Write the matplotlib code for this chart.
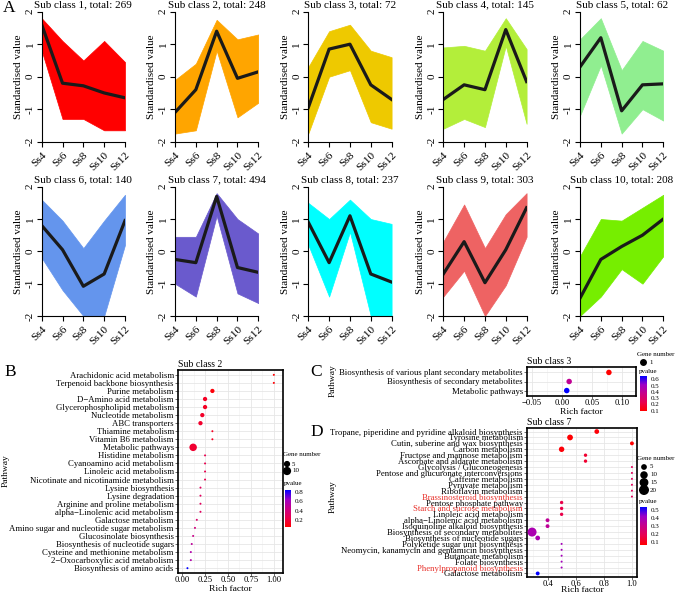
import numpy as np
import matplotlib.pyplot as plt
from matplotlib.colors import LinearSegmentedColormap, Normalize
from matplotlib.ticker import FixedLocator

plt.rcParams["font.family"] = ["Liberation Serif", "DejaVu Serif"]

# ---- Panel A: expression profiles of the 10 sub classes ----
stages = ["Ss4", "Ss6", "Ss8", "Ss10", "Ss12"]
totals = [269, 248, 72, 145, 62, 140, 494, 237, 303, 208]
class_colours = ["#FF0000", "#FFA500", "#EEC900", "#B3EE3A", "#90EE90",
                 "#6495ED", "#6A5ACD", "#00FFFF", "#EE6363", "#76EE00"]
mean_profiles = [
    [1.6, -0.2, -0.28, -0.5, -0.65],
    [-1.1, -0.4, 1.4, -0.05, 0.15],
    [-0.95, 0.85, 1.0, -0.25, -0.7],
    [-0.7, -0.25, -0.4, 1.45, -0.15],
    [0.3, 1.2, -1.05, -0.25, -0.22],
    [0.8, 0.05, -1.08, -0.7, 0.95],
    [-0.25, -0.35, 1.7, -0.5, -0.65],
    [0.9, -0.35, 1.1, -0.7, -0.95],
    [-0.7, 0.3, -0.97, 0.05, 1.35],
    [-1.45, -0.25, 0.15, 0.5, 1.0],
]
# upper / lower envelope of the individual gene profiles
band_hi = [
    [1.8, 1.1, 0.5, 1.1, 0.45],
    [-0.1, 0.4, 1.75, 1.15, 1.3],
    [0.3, 1.4, 1.6, 0.8, 0.6],
    [0.9, 0.95, 0.8, 1.8, 0.85],
    [1.15, 1.8, 0.2, 1.1, 0.8],
    [1.6, 0.95, 0.1, 0.95, 1.75],
    [0.45, 0.45, 1.8, 1.0, 0.55],
    [1.5, 1.0, 1.6, 1.0, 0.85],
    [0.3, 1.45, 0.1, 1.15, 1.8],
    [-0.15, 1.0, 0.95, 1.35, 1.75],
]
band_lo = [
    [0.8, -1.3, -1.3, -1.65, -1.65],
    [-1.75, -1.65, 0.8, -1.25, -0.8],
    [-1.75, 0.0, 0.2, -1.4, -1.6],
    [-1.6, -1.3, -1.55, 0.95, -1.45],
    [-1.2, 0.35, -1.75, -1.0, -1.35],
    [-0.2, -1.2, -2.0, -2.0, 0.2],
    [-1.0, -1.4, 1.1, -1.3, -1.6],
    [0.2, -1.4, 0.6, -2.0, -2.0],
    [-1.4, -0.6, -2.0, -1.05, 0.45],
    [-2.0, -1.4, -0.55, -1.0, -0.15],
]

# ---- Panel B: KEGG enrichment, sub class 2 ----
names_b = ["Arachidonic acid metabolism", "Terpenoid backbone biosynthesis",
           "Purine metabolism", "D\u2212Amino acid metabolism",
           "Glycerophospholipid metabolism", "Nucleotide metabolism",
           "ABC transporters", "Thiamine metabolism", "Vitamin B6 metabolism",
           "Metabolic pathways", "Histidine metabolism",
           "Cyanoamino acid metabolism", "Linoleic acid metabolism",
           "Nicotinate and nicotinamide metabolism", "Lysine biosynthesis",
           "Lysine degradation", "Arginine and proline metabolism",
           "alpha\u2212Linolenic acid metabolism", "Galactose metabolism",
           "Amino sugar and nucleotide sugar metabolism",
           "Glucosinolate biosynthesis", "Biosynthesis of nucleotide sugars",
           "Cysteine and methionine metabolism",
           "2\u2212Oxocarboxylic acid metabolism", "Biosynthesis of amino acids"]
rich_b = [1.0, 1.0, 0.33, 0.25, 0.25, 0.22, 0.2, 0.33, 0.33, 0.12, 0.25, 0.25,
          0.25, 0.25, 0.2, 0.2, 0.2, 0.2, 0.16, 0.14, 0.12, 0.105, 0.095, 0.095,
          0.058]
genes_b = [1, 1, 4, 4, 4, 4, 4, 1, 1, 12, 1, 1, 1, 1, 1, 1, 1, 1, 1, 1, 1, 1,
           1, 1, 1]
pval_b = [0.06, 0.07, 0.08, 0.15, 0.15, 0.16, 0.17, 0.15, 0.15, 0.18, 0.25,
          0.25, 0.25, 0.25, 0.3, 0.3, 0.3, 0.3, 0.35, 0.4, 0.45, 0.5, 0.55,
          0.55, 0.835]

# ---- Panel C: sub class 3 ----
names_c = ["Biosynthesis of various plant secondary metabolites",
           "Biosynthesis of secondary metabolites", "Metabolic pathways"]
rich_c = [0.078, 0.012, 0.008]
genes_c = [1, 1, 1]
pval_c = [0.095, 0.4, 0.653]

# ---- Panel D: sub class 7 ----
names_d = ["Tropane, piperidine and pyridine alkaloid biosynthesis",
           "Tyrosine metabolism", "Cutin, suberine and wax biosynthesis",
           "Carbon metabolism", "Fructose and mannose metabolism",
           "Ascorbate and aldarate metabolism", "Glycolysis / Gluconeogenesis",
           "Pentose and glucuronate interconversions", "Caffeine metabolism",
           "Pyruvate metabolism", "Riboflavin metabolism",
           "Brassinosteroid biosynthesis", "Pentose phosphate pathway",
           "Starch and sucrose metabolism", "Linoleic acid metabolism",
           "alpha\u2212Linolenic acid metabolism",
           "Isoquinoline alkaloid biosynthesis",
           "Biosynthesis of secondary metabolites",
           "Biosynthesis of nucleotide sugars",
           "Polyketide sugar unit biosynthesis",
           "Neomycin, kanamycin and gentamicin biosynthesis",
           "Butanoate metabolism", "Folate biosynthesis",
           "Phenylpropanoid biosynthesis", "Galactose metabolism"]
rich_d = [0.75, 0.56, 1.0, 0.5, 0.67, 0.67, 1.0, 1.0, 1.0, 1.0, 1.0, 1.0, 0.5,
          0.5, 0.5, 0.4, 0.4, 0.29, 0.33, 0.5, 0.5, 0.5, 0.5, 0.5, 0.33]
genes_d = [6, 9, 4, 8, 3, 3, 1, 1, 1, 1, 1, 1, 3, 3, 3, 4, 4, 22, 6, 1, 1, 1,
           1, 1, 4]
pval_d = [0.07, 0.06, 0.06, 0.07, 0.13, 0.13, 0.2, 0.2, 0.2, 0.2, 0.2, 0.2,
          0.17, 0.17, 0.17, 0.33, 0.33, 0.38, 0.38, 0.4, 0.4, 0.4, 0.4, 0.4,
          0.54]
red_labels_d = ["Brassinosteroid biosynthesis", "Starch and sucrose metabolism",
                "Phenylpropanoid biosynthesis"]

W, H = 675, 593
fig = plt.figure(figsize=(W / 100, H / 100), dpi=100)


def rect(l, t, r, b):
    """pixel box (left, top, right, bottom) -> figure fraction"""
    return [l / W, 1 - b / H, (r - l) / W, (b - t) / H]


def put(x, y, s, **kw):
    fig.text(x / W, 1 - y / H, s, **kw)


# ---------------- panel A ----------------
lefts = [41.7, 175, 308.3, 443.3, 580]
row_top = [11.7, 186.7]
row_bot = [141.7, 316]
xs = np.arange(1, 6)
for i in range(10):
    r, c = divmod(i, 5)
    ax = fig.add_axes(rect(lefts[c], row_top[r], lefts[c] + 83.3, row_bot[r]))
    ax.fill_between(xs, band_lo[i], band_hi[i], color=class_colours[i], lw=0.5)
    ax.plot(xs, mean_profiles[i], color="#1a1a1a", lw=2.3)
    ax.set_xlim(1, 5)
    ax.set_ylim(-2, 2)
    for s in ("top", "right"):
        ax.spines[s].set_visible(False)
    for s in ("left", "bottom"):
        ax.spines[s].set_linewidth(0.8)
    ax.set_xticks(xs)
    ax.set_xticklabels(stages, rotation=45, ha="right", va="top",
                       rotation_mode="anchor", fontsize=8.2)
    ax.set_yticks([-2, -1, 0, 1, 2])
    ax.set_yticklabels(["-2", "-1", "0", "1", "2"], rotation=90, va="center",
                       fontsize=8)
    ax.tick_params(direction="out", length=3.5, width=0.8, pad=1.5)
    ax.tick_params(axis="x", pad=2.5)
    ax.set_ylabel("Standardised value", fontsize=8, labelpad=2)
    ax.set_title(f"Sub class {i + 1}, total: {totals[i]}", fontsize=8, pad=3)

# ---------------- dot plots ----------------
cmap = LinearSegmentedColormap.from_list(
    "pv", ["#FF0000", "#E80050", "#C80088", "#9D00C5", "#0000FF"])


def dot_area(g, gmin, gmax, dmin, dmax):
    g = np.asarray(g, float)
    d2 = dmin ** 2 + (dmax ** 2 - dmin ** 2) * (g - gmin) / max(gmax - gmin, 1)
    return d2 * 0.72 ** 2


def dotplot(box, names, rich, genes, pvals, prange, xlim, xticks, xlabels,
            title, gscale, fs, xlpad=0.5):
    ax = fig.add_axes(rect(*box))
    n = len(names)
    ypos = np.arange(n)[::-1]
    sc = ax.scatter(rich, ypos, s=dot_area(genes, *gscale), c=pvals, cmap=cmap,
                    norm=Normalize(*prange), edgecolors="none", zorder=3)
    ax.set_xlim(*xlim)
    ax.set_ylim(-0.6, n - 0.4)
    ax.set_yticks(ypos)
    ax.set_yticklabels(names, fontsize=fs)
    ax.set_xticks(xticks)
    ax.set_xticklabels(xlabels, fontsize=6.2)
    step = xticks[1] - xticks[0]
    ax.xaxis.set_minor_locator(FixedLocator(
        np.arange(xticks[0] - step / 2, xticks[-1] + step, step)))
    ax.grid(True, which="major", color="#E6E6E6", lw=0.6)
    ax.grid(True, which="minor", axis="x", color="#F0F0F0", lw=0.4)
    ax.set_axisbelow(True)
    for s in ax.spines.values():
        s.set_linewidth(1.2)
        s.set_color("black")
    ax.tick_params(axis="both", which="major", length=2, width=0.5,
                   color="#333333", pad=1)
    ax.tick_params(axis="x", which="major", pad=0.5)
    ax.tick_params(axis="x", which="minor", length=0)
    ax.set_title(title, loc="left", fontsize=7, pad=2)
    ax.set_xlabel("Rich factor", fontsize=6.8, labelpad=xlpad)
    return ax, sc


ax_b, sc_b = dotplot((178, 370, 283, 573), names_b, rich_b, genes_b, pval_b,
                     (0.06, 0.835), (-0.045, 1.1), [0, 0.25, 0.5, 0.75, 1.0],
                     ["0.00", "0.25", "0.50", "0.75", "1.00"], "Sub class 2",
                     (1, 12, 2, 7.5), 6.3)
ax_c, sc_c = dotplot((527, 367, 636, 396), names_c, rich_c, genes_c, pval_c,
                     (0.095, 0.653), (-0.058, 0.123), [-0.05, 0, 0.05, 0.1],
                     ["\u22120.05", "0.00", "0.05", "0.10"], "Sub class 3",
                     (1, 1, 5.5, 5.5), 6.3)
ax_d, sc_d = dotplot((527, 428, 637, 577), names_d, rich_d, genes_d, pval_d,
                     (0.058, 0.542), (0.254, 1.036), [0.4, 0.6, 0.8, 1.0],
                     ["0.4", "0.6", "0.8", "1.0"], "Sub class 7",
                     (1, 22, 2, 9), 6.35, xlpad=-1.5)
for lab in ax_d.get_yticklabels():
    if lab.get_text() in red_labels_d:
        lab.set_color("#E8302A")

# colour bars
for box, sc, ticks in [((285, 490, 291, 527), sc_b, [0.2, 0.4, 0.6, 0.8]),
                       ((640, 376, 647, 411), sc_c, [0.1, 0.2, 0.3, 0.4, 0.5, 0.6]),
                       ((640, 507, 647, 545), sc_d, [0.1, 0.2, 0.3, 0.4, 0.5])]:
    cax = fig.add_axes(rect(*box))
    cb = fig.colorbar(sc, cax=cax, ticks=ticks)
    cb.outline.set_visible(False)
    cax.tick_params(labelsize=5, length=1.5, color="white", pad=1)

# legends drawn in pixel space
ov = fig.add_axes([0, 0, 1, 1])
ov.set_xlim(0, W)
ov.set_ylim(H, 0)
ov.axis("off")

ov.text(283, 455, "Gene number", fontsize=5, va="center")
ov.scatter([287, 287], [464, 471], s=dot_area([5, 10], 1, 12, 2, 7.5), c="black")
for y, t in zip([464, 471], ["5", "10"]):
    ov.text(292, y, t, fontsize=5, va="center")
ov.text(284, 484, "pvalue", fontsize=5, va="center")

ov.text(637, 354, "Gene number", fontsize=5, va="center")
ov.scatter([643], [362], s=dot_area([1], 1, 1, 5.5, 5.5), c="black")
ov.text(649, 362, "1", fontsize=5, va="center")
ov.text(639, 371, "pvalue", fontsize=5, va="center")

ov.text(637, 458, "Gene number", fontsize=5, va="center")
ys_leg = [467, 475, 482.5, 490]
ov.scatter([644] * 4, ys_leg, s=dot_area([5, 10, 15, 20], 1, 22, 2, 9), c="black")
for y, t in zip(ys_leg, ["5", "10", "15", "20"]):
    ov.text(650, y, t, fontsize=5, va="center")
ov.text(639, 502, "pvalue", fontsize=5, va="center")

# axis titles and panel letters
for x, y in [(6, 471), (333, 381), (333, 497)]:
    put(x, y, "Pathway", rotation=90, fontsize=6.8, ha="center", va="center")
for x, y, t in [(9, 8, "A"), (10, 372, "B"), (316, 372, "C"), (317, 432, "D")]:
    put(x, y, t, fontsize=12.5, ha="center", va="center")

fig.savefig("out.png", dpi=100, facecolor="white")
